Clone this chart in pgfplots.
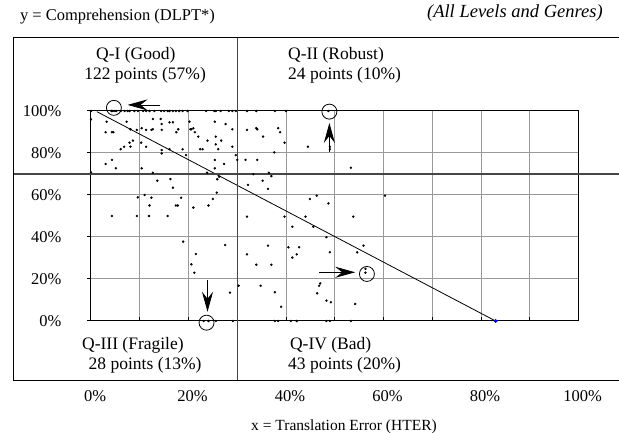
\documentclass[border=0pt]{standalone}
\usepackage{fontspec}
\setmainfont{Liberation Serif}
\usepackage{pgfplots}
\pgfplotsset{compat=1.18}
\usetikzlibrary{arrows.meta}
\begin{document}
\begin{tikzpicture}
\begin{axis}[
  name=ax, at={(0,0)}, anchor=south west,
  scale only axis, width=487.5pt, height=210pt,
  xmin=0, xmax=100, ymin=0, ymax=100,
  clip=false,
  xtick={0,10,...,100}, xticklabels={0\%,,20\%,,40\%,,60\%,,80\%,,100\%},
  ytick={0,20,...,100}, yticklabels={0\%,20\%,40\%,60\%,80\%,100\%},
  xtick align=inside, ytick align=outside, xtick pos=lower, ytick pos=left,
  major tick length=4pt,
  grid=major, grid style={gray!80, line width=1pt},
  axis line style={black, line width=1pt},
  tick style={black, line width=1pt},
  ticklabel style={font=\fontsize{16.5}{19}\selectfont},
  xticklabel style={yshift=-66pt, xshift=4pt},
  yticklabel style={xshift=-22pt},
  /pgf/number format/assume math mode=true,
]
% regression line
\addplot[black, line width=0.8pt] coordinates {(1.2,99.7) (83,0)};
% data points
\addplot[only marks, mark=*, mark size=1pt, black] coordinates {
(0,100)(4.2,100)(4.5,100)(4.9,100)(5.2,100)(6.1,100)(6.9,100)(7.5,100)(7.9,100)(8.9,100)
(9.6,100)(10.7,100)(11.3,100)(12,100)(13,100)(14.4,100)(15,100)(15.7,100)(16.1,100)(16.8,100)
(17.4,100)(18.1,100)(18.8,100)(19.8,100)(23.6,100)(25.3,100)(25.6,100)(26.6,100)(28.3,100)(29,100)
(29.7,100)(32,100)(33.9,100)(37.7,100)(40,100)(48.7,100)
(0,96)(3.2,94.9)(7.3,94.9)(12.7,96.2)(14.3,96.2)(14.5,93.8)(3,89.9)(4.3,89.9)(4.6,89.9)(8.1,91.3)
(9.4,91)(10.4,91.8)(11.3,91)(12.4,91)(12.7,91.3)(14.5,91)(8.6,85.9)(7.9,84.9)(8.1,83)(6.8,83)
(6.1,81.8)(10.3,84.9)(11.3,83)(14.5,81.4)(14.5,79.8)(3,74.8)(4.3,76.7)(5.1,72.7)(10.4,72.7)(12.7,70.6)
(16.1,94.6)(16.8,94.6)(17.9,91.3)(17.5,89.9)(20.2,94.9)(20.4,91.3)(20.6,91.3)(21,91.8)(21.3,89.9)(22,87.8)
(25.4,94.9)(27.6,93.8)(29,91.3)(25.6,87.8)(26.7,85.9)(23.9,85.9)(25.6,84.1)(29,83)(16.1,81.8)(18.8,81.8)
(22.4,81.8)(22.9,81.8)(26.1,81.8)(19.5,79)(29.7,79)(25.4,76.7)(27.3,74.8)(25.4,72.7)(23.8,70.6)(0,70.8)
(30,76.7)(31.7,76.7)(32,91)(33.9,91.8)(34.1,91.3)(35.3,87.8)(38.4,91.8)(38.8,89.9)(39.7,84.9)(44.5,83)
(49,83)(49,81.8)(37.6,80.3)(34.1,76.7)(53.3,73)(36.5,70.6)
(13.6,66.8)(11,60)(9.6,58.9)(12.4,58.7)(12,55)(4.3,50)(9.4,50)(11.9,50)(15.7,50)(16.3,67.6)
(16.8,63.5)(18.5,58.7)(17.4,55)(17.8,55)(21,54)(24.1,55)(25,58.1)(25.8,61.1)(25.9,67.5)(26.3,68.7)
(18.9,37.8)(27.5,36.2)(21.5,31.9)(20.6,27)(21.2,23)(28.5,13.5)(23.1,0)(24.1,0)(25.6,0)(29.1,0)
(33.3,69.9)(37,69)(35.2,66.8)(32.2,64.8)(36.3,62.9)(44.9,58.1)(46.3,59.7)(48.7,56)(60.3,59.7)(32,49.7)
(39.7,49.7)(44,49.7)(53.8,49.7)(41.3,44.9)(45.6,44.9)(48.3,39.9)(36.3,35.9)(40.5,35.1)(42.7,35.1)(32,31.7)
(42.2,31.7)(41.3,30.2)(49,32.7)(54.6,32.7)(55.9,35.9)(33.9,26.8)(37,26.8)(56.3,24.8)(56.3,23)(34.8,16.8)
(30.3,16.8)(37.7,13.7)(47,17.9)(46.8,16.8)(46.4,13.2)(39,6.8)(48.3,9.7)(49.2,8.9)(54.2,8.1)(37.7,0)
(38.4,0)(41,0)(42.2,0)(48.3,0)(49,0)(53.3,0)
};
\addplot[only marks, mark=*, mark size=1.8pt, blue] coordinates {(83,0)};
% frame and quadrant lines
\draw[black, line width=1pt] (axis cs:112,134.8) -- (axis cs:-15.8,134.8) -- (axis cs:-15.8,-28.1) -- (axis cs:112,-28.1);
\draw[gray!55!black, line width=1.2pt] (axis cs:30,-28.1) -- (axis cs:30,134.8);
\draw[gray!55!black, line width=1.2pt] (axis cs:-15.8,70) -- (axis cs:112,70);
% circles and arrows
\draw[black, line width=0.8pt] (axis cs:4.7,101.5) circle[radius=7.5pt];
\draw[black, line width=0.8pt] (axis cs:48.9,99.7) circle[radius=7.5pt];
\draw[black, line width=0.8pt] (axis cs:23.7,-0.8) circle[radius=7.5pt];
\draw[black, line width=0.8pt] (axis cs:56.6,22.4) circle[radius=7.5pt];
\draw[black, line width=0.8pt, -{Stealth[length=20pt,width=11pt,inset=7pt]}] (axis cs:14.2,102.9) -- (axis cs:7.5,102.9);
\draw[black, line width=0.8pt, -{Stealth[length=20pt,width=11pt,inset=7pt]}] (axis cs:48.9,80.6) -- (axis cs:48.9,94.3);
\draw[black, line width=0.8pt, -{Stealth[length=20pt,width=11pt,inset=7pt]}] (axis cs:23.9,19.5) -- (axis cs:23.9,4.4);
\draw[black, line width=0.8pt, -{Stealth[length=20pt,width=11pt,inset=7pt]}] (axis cs:46.8,23.2) -- (axis cs:54.2,23.2);
% texts
\begin{scope}[every node/.style={font=\fontsize{17.5}{20}\selectfont, inner sep=0pt}]
\node at (axis cs:9.2,126.7) {Q-I (Good)};
\node at (axis cs:11.1,117.1) {122 points (57\%)};
\node[anchor=west] at (axis cs:40.4,126.7) {Q-II (Robust)};
\node[anchor=west] at (axis cs:40.4,117.1) {24 points (10\%)};
\node at (axis cs:8.6,-11.4) {Q-III (Fragile)};
\node at (axis cs:11.1,-21) {28 points (13\%)};
\node[anchor=west] at (axis cs:40.8,-11.4) {Q-IV (Bad)};
\node[anchor=west] at (axis cs:40.4,-21) {43 points (20\%)};
\end{scope}
\begin{scope}[every node/.style={font=\fontsize{15.5}{18}\selectfont, inner sep=0pt}]
\node[anchor=west, font=\fontsize{16.5}{19}\selectfont] at (axis cs:-14.6,144.8) {y = Comprehension (DLPT*)};
\node[anchor=east, font=\fontsize{18.5}{21}\selectfont\itshape] at (axis cs:105,146.7) {(All Levels and Genres)};
\node at (axis cs:51.9,-50.5) {x = Translation Error (HTER)};
\end{scope}
\end{axis}
\pgfresetboundingbox
\path (-91pt,-112pt) rectangle (528pt,321pt);
\end{tikzpicture}
\end{document}
